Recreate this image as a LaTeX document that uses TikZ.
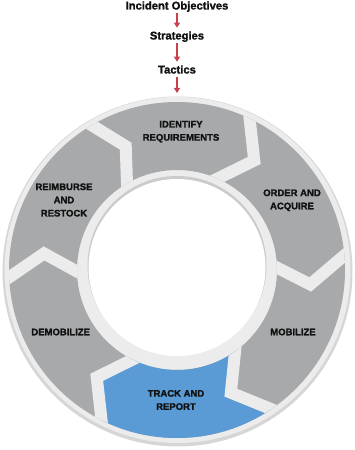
\documentclass[tikz,border=0pt]{standalone}
\usepackage{fontspec}
\setmainfont{Liberation Sans}[BoldFeatures={FakeBold=1.6}]
\usetikzlibrary{arrows.meta,calc}
\definecolor{seggray}{HTML}{A7A9AB}
\definecolor{segblue}{HTML}{5B9BD5}
\definecolor{rim}{HTML}{ECECEC}
\definecolor{rimedge}{HTML}{D6D6D6}
\definecolor{holeshade}{HTML}{CBCBCB}
\definecolor{arrred}{HTML}{C8404D}
\definecolor{txt}{HTML}{111111}
\begin{document}
\begin{tikzpicture}[x=1pt,y=1pt,
  lbl/.style={font=\bfseries\fontsize{9.5}{13.2}\selectfont, text=txt, align=center, inner sep=0pt},
  toplbl/.style={font=\bfseries\fontsize{11.2}{13}\selectfont, text=txt, inner sep=0pt, anchor=base},
  arr/.style={draw=arrred, line width=1.3pt, -{Triangle[width=6pt,length=5pt]}},
  gap/.style={draw=rim, line width=12pt, line join=miter, miter limit=10}
]
\useasboundingbox (0,0) rectangle (354,450);
\coordinate (C) at (177,180);
% outer disc (rim)
\fill[rimedge] (177.5,178.5) circle[radius=175];
\fill[rim] (177.5,180) circle[radius=173];
% hole with shadow
\fill[holeshade] (177,184.5) circle[radius=89.5];
\fill[white] (177,182.5) circle[radius=88.5];
% segment band
\fill[seggray, even odd rule] (C) circle[radius=168] (C) circle[radius=100];
% gap centre lines
\foreach \n/\o/\t/\i in {1/64.4/54.8/66.1, 2/5/-6.2/1.4, 3/-55.9/-66.3/-54.5, 4/-116.7/-126.8/-116.4, 5/-177.5/-187.1/-179.1, 6/-239.5/-247.5/-240} {
  \coordinate (g\n o) at ($(C)+(\o:168)$);
  \coordinate (g\n t) at ($(C)+(\t:134)$);
  \coordinate (g\n i) at ($(C)+(\i:100)$);
  \coordinate (g\n O) at ($(g\n t)!1.35!(g\n o)$);
  \coordinate (g\n I) at ($(g\n t)!1.4!(g\n i)$);
}
\coordinate (far) at ($(C)+(-86:240)$);
\begin{scope}[even odd rule]
  \clip (C) circle[radius=168] (C) circle[radius=100];
  \fill[segblue] (g3O) -- (g3t) -- (g3I) -- (C) -- (g4I) -- (g4t) -- (g4O) -- (far) -- cycle;
  \foreach \n in {1,...,6} \draw[gap] (g\n O) -- (g\n t) -- (g\n I);
\end{scope}
% labels
\node[lbl] (idreq) at (181,318.3) {IDENTIFY\\REQUIREMENTS};
\node[lbl] (order) at (292,249.7) {ORDER AND\\ACQUIRE};
\node[lbl] (reimb) at (64,250) {REIMBURSE\\AND\\RESTOCK};
\node[lbl] (demob) at (60.7,118) {DEMOBILIZE};
\node[lbl] (mob) at (293,118) {MOBILIZE};
\node[lbl] (track) at (176,50) {TRACK AND\\REPORT};
% top chain
\node[toplbl] (obj) at (177,440.5) {Incident Objectives};
\node[toplbl] (strat) at (177,410.5) {Strategies};
\node[toplbl] (tact) at (177,376.5) {Tactics};
\coordinate (ringtop) at (177,357);
\draw[arr, shorten <=1.2pt, shorten >=3.5pt] (obj.south) -- (strat.north);
\draw[arr, shorten <=1.2pt, shorten >=3.5pt] (strat.south) -- (tact.north);
\draw[arr, shorten <=3.3pt] (tact.south) -- (ringtop);
\end{tikzpicture}
\end{document}
